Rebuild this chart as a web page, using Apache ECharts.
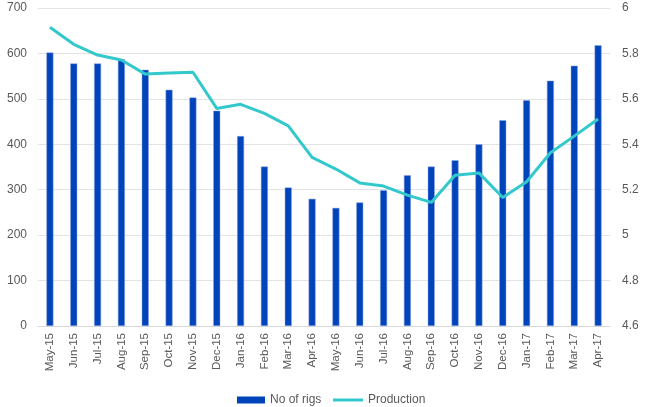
<!DOCTYPE html>
<html><head><meta charset="utf-8">
<script src="https://cdn.jsdelivr.net/npm/echarts@6/dist/echarts.min.js"></script>
<style>html,body{margin:0;padding:0;background:#fff}#c{width:651px;height:407px}</style>
</head><body><div id="c"></div>
<script>
const categories = ["May-15","Jun-15","Jul-15","Aug-15","Sep-15","Oct-15","Nov-15","Dec-15","Jan-16","Feb-16","Mar-16","Apr-16","May-16","Jun-16","Jul-16","Aug-16","Sep-16","Oct-16","Nov-16","Dec-16","Jan-17","Feb-17","Mar-17","Apr-17"];
const rigs = [602,578,578,587,564,520,503,474,418,351,305,280,260,272,299,332,351,365,400,453,497,540,573,618];
const production = [5.915,5.84,5.793,5.771,5.709,5.714,5.717,5.558,5.576,5.536,5.481,5.342,5.291,5.230,5.216,5.176,5.144,5.264,5.274,5.166,5.235,5.363,5.436,5.511];
const font = "'Liberation Sans', Arial, sans-serif";
const legendText = {color:'#595959',fontSize:12,fontFamily:font};
const chart = echarts.init(document.getElementById('c'), null, {renderer:'canvas'});
chart.setOption({
  animation:false,
  textStyle:{fontFamily:font},
  grid:{left:38,right:41,top:8,bottom:81,containLabel:false},
  legend:[
    {left:232,top:389,itemWidth:28,itemHeight:7,textStyle:legendText,
     itemStyle:{borderWidth:0},
     data:[{name:'No of rigs',icon:'rect'}]},
    {left:328,top:389,itemWidth:30,itemHeight:3,textStyle:legendText,
     itemStyle:{borderWidth:0},
     data:[{name:'Production',icon:'rect'}]}
  ],
  xAxis:{type:'category',data:categories,
    axisLine:{lineStyle:{color:'#d9d9d9'}},axisTick:{show:false},
    axisLabel:{rotate:90,color:'#595959',fontSize:11.5,interval:0,margin:7,fontFamily:font}},
  yAxis:[
    {type:'value',min:0,max:700,interval:100,
     axisLine:{show:false},axisTick:{show:false},
     splitLine:{lineStyle:{color:'#e3e3e3'}},
     axisLabel:{color:'#595959',fontSize:12,margin:11,fontFamily:font}},
    {type:'value',min:4.6,max:6,interval:0.2,
     axisLine:{show:false},axisTick:{show:false},splitLine:{show:false},
     axisLabel:{color:'#595959',fontSize:12,margin:12,fontFamily:font,
       formatter:v=>String(Math.round(v*10)/10)}}
  ],
  series:[
    {name:'No of rigs',type:'bar',data:rigs,barWidth:7,
     itemStyle:{color:'#0044BB',borderColor:'#8fa6e0',borderWidth:0.5}},
    {name:'Production',type:'line',yAxisIndex:1,data:production,symbol:'none',
     lineStyle:{color:'#33C9CC',width:3},itemStyle:{color:'#33C9CC'}}
  ]
});
</script></body></html>
